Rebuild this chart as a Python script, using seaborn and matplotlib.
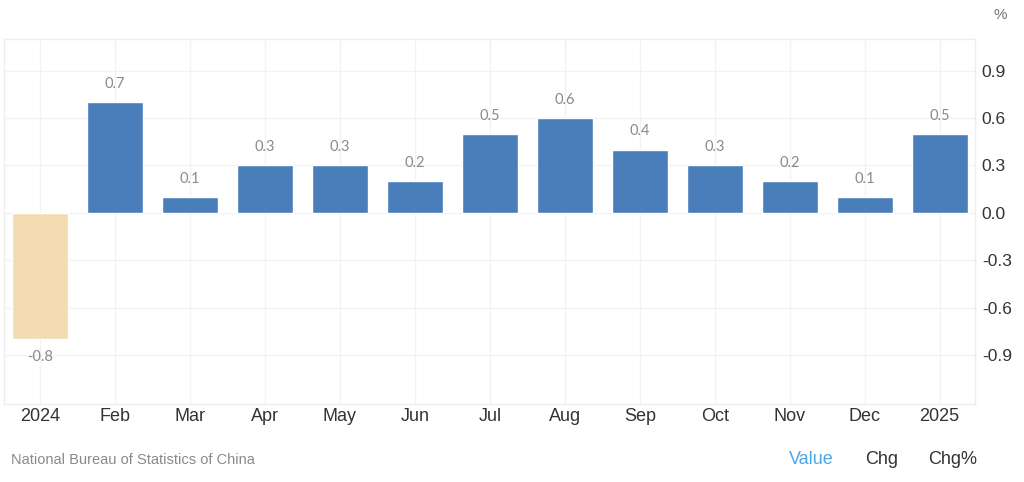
import matplotlib.pyplot as plt
import seaborn as sns
import pandas as pd

MONTHS = ['2024', 'Feb', 'Mar', 'Apr', 'May', 'Jun', 'Jul', 'Aug', 'Sep', 'Oct', 'Nov', 'Dec', '2025']
VALUES = [-0.8, 0.7, 0.1, 0.3, 0.3, 0.2, 0.5, 0.6, 0.4, 0.3, 0.2, 0.1, 0.5]
Y_TICKS = [-0.9, -0.6, -0.3, 0.0, 0.3, 0.6, 0.9]
SOURCE = 'National Bureau of Statistics of China'

BLUE = '#4a7ebb'
TAN = '#f3dcb2'

df = pd.DataFrame({'Month': MONTHS, 'Value': VALUES})
colors = [TAN if m == '2024' else BLUE for m in MONTHS]

sns.set_style('white')
plt.rcParams['font.family'] = ['Liberation Sans', 'DejaVu Sans']

fig = plt.figure(figsize=(10.24, 4.82), dpi=100)
ax = fig.add_axes([0.004, 0.162, 0.948, 0.757])

sns.barplot(data=df, x='Month', y='Value', hue='Month', palette=colors,
            width=0.75, legend=False, saturation=1, ax=ax)

for cont in ax.containers:
    ax.bar_label(cont, fmt='%.1f', padding=8, fontsize=10.5, color='#8a8a8a',
                 family=['Lato', 'DejaVu Sans'])

ax.set_xlim(-0.48, 12.47)
ax.set_ylim(-1.21, 1.1)
ax.set_yticks(Y_TICKS)
ax.set_yticklabels([f'{v:.1f}' for v in Y_TICKS])
ax.yaxis.tick_right()
ax.tick_params(axis='y', length=0, pad=5, labelsize=12.5, labelcolor='#333333')
ax.tick_params(axis='x', length=0, pad=3, labelsize=13, labelcolor='#333333')
ax.set_xlabel('')
ax.set_ylabel('')

ax.grid(True, color='#f2f2f2', linewidth=1)
ax.set_axisbelow(True)
for s in ax.spines.values():
    s.set_color('#eeeeee')
    s.set_linewidth(1)

fig.text(0.977, 0.968, '%', fontsize=11, color='#777777', ha='center', va='center')
fig.text(0.011, 0.045, SOURCE, fontsize=10.5, color='#8a8a8a', ha='left', va='center')
fig.text(0.792, 0.047, 'Value', fontsize=13, color='#4da6e8', ha='center', va='center')
fig.text(0.861, 0.047, 'Chg', fontsize=13, color='#333333', ha='center', va='center')
fig.text(0.930, 0.047, 'Chg%', fontsize=13, color='#333333', ha='center', va='center')

plt.savefig('out.png', dpi=100)
plt.close()
